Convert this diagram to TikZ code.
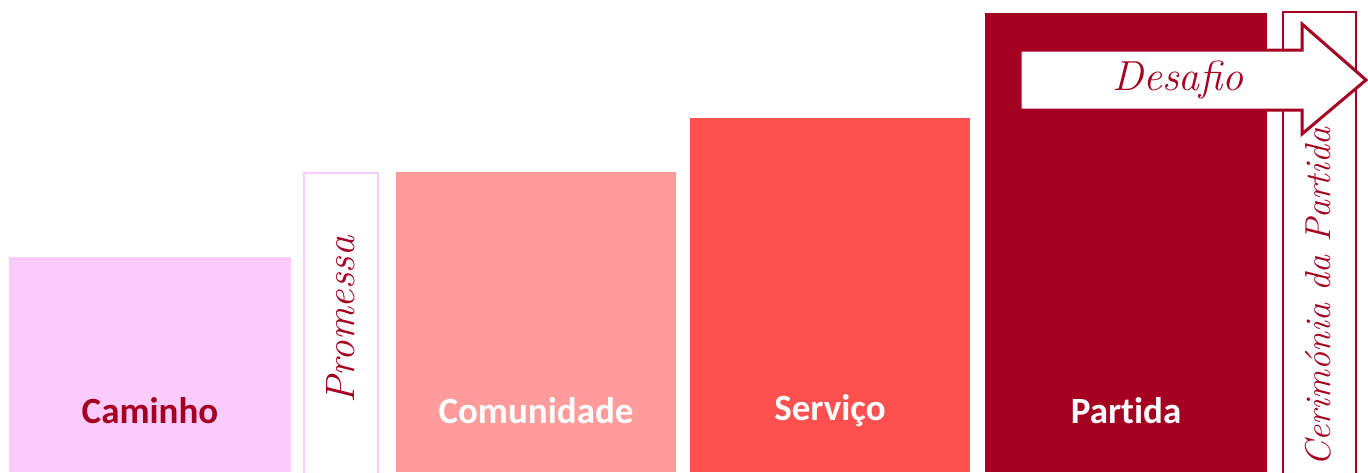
\documentclass[tikz,border=0pt]{standalone}
\usepackage{fontspec}
\newfontfamily\labelfont[Ligatures=NoCommon]{Carlito}
\definecolor{pinkc}{HTML}{FBCBFC}
\definecolor{salmon}{HTML}{FF9B9B}
\definecolor{redc}{HTML}{FF5050}
\definecolor{darkred}{HTML}{A50021}
\begin{document}
\begin{tikzpicture}[x=1pt,y=-1pt,
  blk/.style={inner sep=0pt, outer sep=0pt, anchor=north west},
  lbl/.style={font=\labelfont\bfseries\fontsize{37}{42}\selectfont, inner sep=0pt},
  scr/.style={font=\itshape\fontsize{#1}{#1}\selectfont, text=darkred, inner sep=0pt}]
\useasboundingbox (0,0) rectangle (1368,472);
% boxes
\node[blk, fill=pinkc, minimum width=282pt, minimum height=215pt] (caminho) at (9,257) {};
\node[blk, fill=white, draw=pinkc, line width=2.5pt, minimum width=74pt, minimum height=301pt] (promessa) at (304,173) {};
\node[blk, fill=salmon, minimum width=280pt, minimum height=300pt] (comunidade) at (396,172) {};
\node[blk, fill=redc, minimum width=280pt, minimum height=354pt] (servico) at (690,118) {};
\node[blk, fill=darkred, minimum width=282pt, minimum height=459pt] (partida) at (985,13) {};
\node[blk, fill=white, draw=darkred, line width=2pt, minimum width=73pt, minimum height=462pt] (cerimonia) at (1283,12) {};
% labels
\node[lbl, text=darkred] (tcaminho) at (150,411) {Caminho};
\node[lbl, text=white] (tcomunidade) at (536,411) {Comunidade};
\node[lbl, text=white] (tservico) at (830,411) {Serviço};
\node[lbl, text=white] (tpartida) at (1126,411) {Partida};
\node[scr=41, rotate=90] (tpromessa) at (341,320) {Promessa};
\node[scr=36, rotate=90] (tcerimonia) at (1318,297) {Cerimónia da Partida};
% arrow
\draw[darkred, fill=white, line width=3pt, line join=miter]
  (1020,50) -- (1302,50) -- (1302,24) -- (1366,80) -- (1302,134) -- (1302,110) -- (1020,110) -- cycle;
\node[scr=42] (tdesafio) at (1178,80) {Desafio};
\end{tikzpicture}
\end{document}
